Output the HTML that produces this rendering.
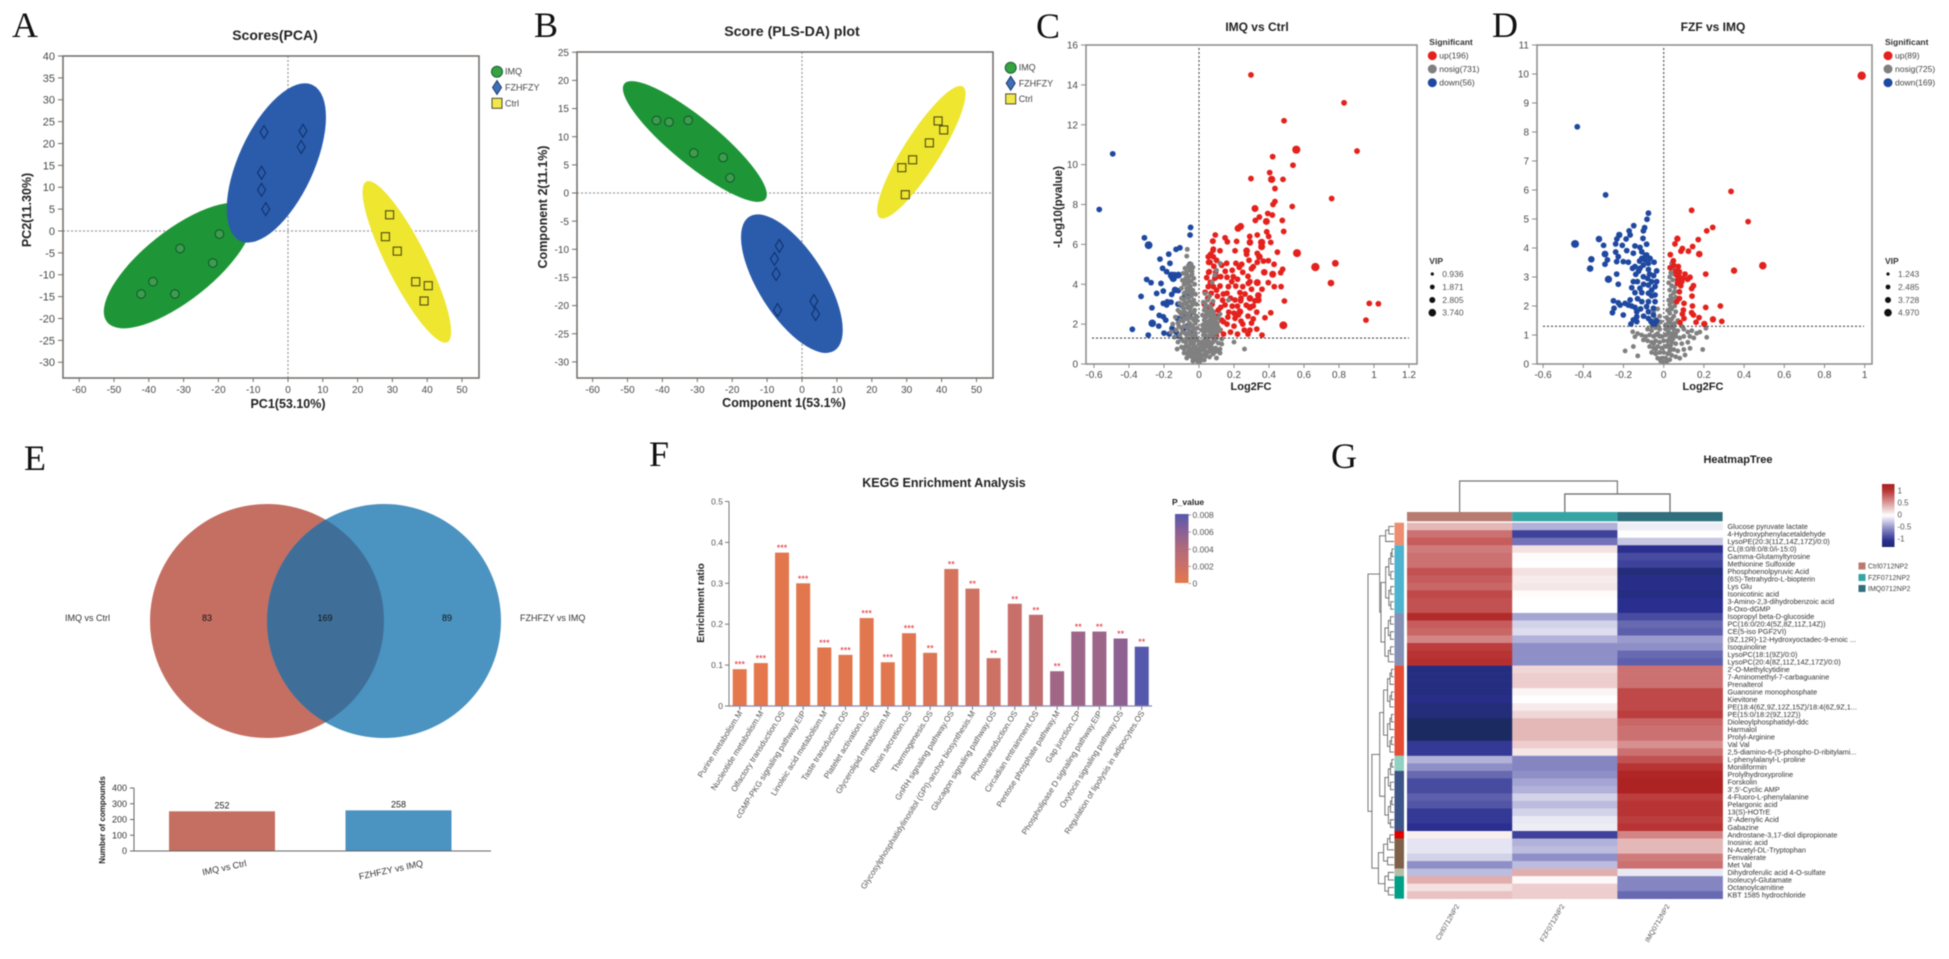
<!DOCTYPE html>
<html lang="en">
<head>
<meta charset="utf-8">
<title>Metabolomics multi-panel figure</title>
<style>
html,body{margin:0;padding:0;background:#fff;width:1949px;height:959px;overflow:hidden}
svg{display:block;font-family:"Liberation Sans",Arial,sans-serif;filter:blur(0.45px)}
.letter{font-family:"Liberation Serif",serif;font-size:36px;fill:#111}
.title{font-weight:bold;fill:#222;text-anchor:middle}
.axis-title{font-weight:bold;fill:#222;text-anchor:middle}
</style>
</head>
<body>
<svg id="figure" width="1949" height="959" viewBox="0 0 1949 959" xmlns="http://www.w3.org/2000/svg">
<defs>
<linearGradient id="p-gradient" x1="0" y1="1" x2="0" y2="0">
<stop offset="0" stop-color="#e5784a"/><stop offset="0.25" stop-color="#cb7068"/><stop offset="0.5" stop-color="#b06a7a"/><stop offset="0.75" stop-color="#8a6095"/><stop offset="1" stop-color="#5558ad"/>
</linearGradient>
<linearGradient id="heat-gradient" x1="0" y1="1" x2="0" y2="0">
<stop offset="0" stop-color="#1c2a6a"/><stop offset="0.1" stop-color="#2a2f8f"/><stop offset="0.3" stop-color="#8f8fc8"/><stop offset="0.5" stop-color="#ffffff"/><stop offset="0.7" stop-color="#da9a9a"/><stop offset="0.9" stop-color="#b83333"/><stop offset="1" stop-color="#aa2020"/>
</linearGradient>
<clipPath id="venn-clip"><circle cx="267" cy="621" r="117"/></clipPath>
</defs>
<rect width="1949" height="959" fill="#fff"/>

<text class="letter" x="12" y="37">A</text>
<text class="letter" x="534" y="37">B</text>
<text class="letter" x="1036" y="38">C</text>
<text class="letter" x="1492" y="37">D</text>
<text class="letter" x="24" y="470">E</text>
<text class="letter" x="649" y="466">F</text>
<text class="letter" x="1331" y="468">G</text>

<text class="title" x="275" y="40" font-size="14">Scores(PCA)</text>
<text class="axis-title" transform="translate(31,210) rotate(-90)" font-size="12.5">PC2(11.30%)</text>
<text class="axis-title" x="288" y="408" font-size="12.5">PC1(53.10%)</text>

<text class="title" x="792" y="36" font-size="14.2">Score (PLS-DA) plot</text>
<text class="axis-title" transform="translate(547,207) rotate(-90)" font-size="12.5">Component 2(11.1%)</text>
<text class="axis-title" x="784" y="407" font-size="12.5">Component 1(53.1%)</text>

<text class="title" x="1257" y="31" font-size="12">IMQ vs Ctrl</text>
<text class="axis-title" transform="translate(1062,207) rotate(-90)" font-size="11.5">-Log10(pvalue)</text>
<text class="axis-title" x="1251" y="390" font-size="11">Log2FC</text>

<text class="title" x="1713" y="31" font-size="12">FZF vs IMQ</text>
<text class="axis-title" x="1703" y="390" font-size="11">Log2FC</text>

<g id="venn">
<circle cx="267" cy="621" r="117" fill="#c56f62"/>
<circle cx="384" cy="621" r="117" fill="#4b93c0"/>
<circle cx="384" cy="621" r="117" fill="#3f6f99" clip-path="url(#venn-clip)"/>
<text x="65" y="621" font-size="9" fill="#333">IMQ vs Ctrl</text>
<text x="520" y="621" font-size="9" fill="#333">FZHFZY vs IMQ</text>
<text x="207" y="621" font-size="9" fill="#111" text-anchor="middle">83</text>
<text x="325" y="621" font-size="9" fill="#111" text-anchor="middle">169</text>
<text x="447" y="621" font-size="9" fill="#111" text-anchor="middle">89</text>
</g>
<text class="axis-title" transform="translate(105,820) rotate(-90)" font-size="8">Number of compounds</text>

<text class="title" x="944" y="487" font-size="12.5">KEGG Enrichment Analysis</text>
<text class="axis-title" transform="translate(704,603) rotate(-90)" font-size="10">Enrichment ratio</text>
<text x="1172" y="505" font-size="8.5" font-weight="bold" fill="#222">P_value</text>
<rect x="1175" y="514" width="13.5" height="69" fill="url(#p-gradient)"/>

<text class="title" x="1738" y="463" font-size="11">HeatmapTree</text>
<rect x="1882" y="484" width="12.5" height="63" fill="url(#heat-gradient)"/>
<g id="charts"></g>
</svg>

<script>
/* ---------- PCA data ---------- */
const pcaXTicks = [-60,-50,-40,-30,-20,-10,0,10,20,30,40,50];
const pcaYTicks = [40,35,30,25,20,15,10,5,0,-5,-10,-15,-20,-25,-30];
const pcaImqPoints = [[-42.2,-14.4],[-38.8,-11.6],[-32.5,-14.4],[-31,-4],[-21.6,-7.3],[-19.7,-0.7]];
const pcaFzPoints = [[-6.9,22.6],[4.3,22.9],[3.8,19.2],[-7.6,13.3],[-7.6,9.4],[-6.4,5]];
const pcaCtrlPoints = [[29.2,3.7],[28,-1.3],[31.4,-4.6],[36.7,-11.6],[40.3,-12.5],[39.1,-16]];
const pcaImqEllipse = [-52,-20.8,-11,5];
const pcaFzEllipse = [-13.7,-2.3,7,33.4];
const pcaCtrlEllipse = [22.5,11.3,45.8,-25.4];

/* ---------- PLS-DA data ---------- */
const plsXTicks = [-60,-50,-40,-30,-20,-10,0,10,20,30,40,50];
const plsYTicks = [25,20,15,10,5,0,-5,-10,-15,-20,-25,-30];
const plsImqPoints = [[-41.7,12.9],[-38.1,12.6],[-32.6,12.9],[-31,7.1],[-22.6,6.3],[-20.6,2.7]];
const plsFzPoints = [[-6.5,-9.4],[-7.9,-11.7],[-7.4,-14.4],[-7,-20.8],[3.4,-19.2],[3.9,-21.5]];
const plsCtrlPoints = [[39,12.8],[40.6,11.2],[36.5,8.9],[31.7,5.9],[28.6,4.5],[29.6,-0.3]];
const plsImqEllipse = [-50.9,19.4,-10.5,-1.1];
const plsFzEllipse = [-15.1,-4.2,9.3,-28];
const plsCtrlEllipse = [46.1,18.9,22.3,-4.4];

/* ---------- Volcano C data: [log2fc, -log10p, optional VIP] ---------- */
const volcanoCXTicks = [-0.6,-0.4,-0.2,0,0.2,0.4,0.6,0.8,1,1.2];
const volcanoCYTicks = [16,14,12,10,8,6,4,2,0];
const volcanoCUp = [[.297,14.5],[.829,13.1],[.486,12.2],[.556,10.75,3.6],[.903,10.68],[.421,10.4],[.537,9.97],[.404,9.6],[.297,9.3],[.415,9.26,3],[.48,9.26],[.434,8.8],[.758,8.3],[.434,8.15],[.423,8],[.533,7.9],[.32,7.8,2.8],[.345,7.37],[.393,7.55],[.419,7.47],[.322,7.2],[.385,7.15,2.8],[.476,7.2],[.484,6.65],[.238,6.9,2.8],[.223,6.8,2.8],[.093,6.47],[.387,6.63],[.398,6.4],[.29,6.4],[.333,6.47],[.078,6.16],[.149,6.33],[.162,6.13],[.215,6.15],[.291,6.1,2.6],[.358,6.1,3],[.41,6.1],[.082,5.76],[.12,5.68],[.206,5.68],[.272,5.68,2.6],[.358,5.88,2.8],[.448,5.61],[.56,5.56,3.5],[.053,5.38],[.082,5.38],[.272,5.5],[.333,5.55],[.345,5.38,2.6],[.063,5.1],[.286,5.2],[.158,5.05],[.211,5.05],[.244,5],[.333,5.1],[.368,5.16],[.396,5.18],[.429,5],[.665,4.86,3.7],[.779,5.05,2.7],[.31,4.88],[.3,4.78],[.478,4.75],[.467,4.58],[.373,4.6,2.6],[.421,4.5,2.8],[.059,4.63],[.101,4.38],[.196,4.38],[.124,4.38],[.044,4.33],[.187,4.13],[.282,4.04],[.291,4.13],[.333,4.08,2.8],[.396,4.08],[.754,4.06,2.6],[.053,3.88],[.082,3.88],[.12,3.91],[.168,3.88],[.21,3.91],[.25,3.88],[.43,3.88],[.469,3.88],[.139,3.51],[.234,3.58],[.263,3.51],[.339,3.44,2.6],[.291,3.29,2.6],[.339,3.21,2.6],[.206,3.21],[.238,3.17],[.32,3.17],[.488,3.16],[.973,3.04],[1.025,3.02],[.149,2.96],[.124,2.84],[.291,2.84,2.6],[.31,2.91],[.234,2.62,2.6],[.225,2.46],[.41,2.57],[.377,2.32],[.31,2.26],[.206,2.29],[.139,2.12],[.954,2.2],[.482,1.94,3.4],[.259,1.7],[.291,1.7],[.08,2.6],[.1,2.4],[.13,2.2],[.16,2],[.06,2.1],[.09,1.9],[.12,1.7],[.18,1.6],[.22,1.5],[.05,1.7],[.07,1.5],[.1,1.4],[.14,1.5],[.2,1.9],[.25,2],[.28,1.5],[.33,1.75],[.36,1.45],[.08,6.16],[.08,5.7],[.066,5.5],[.055,5.1],[.085,4.9],[.055,4.6],[.09,4.3],[.065,4.1],[.095,4.6],[.1,5.2],[.035,3.6],[.05,3.3],[.075,3],[.105,3.4],[.135,3.2],[.03,3],[.06,2.8],[.17,2.6],[.19,2.9],[.11,2.7],[.04,2.4],[.16,3.55],[.18,3.3],[.1,3.7],[.07,3.55],[.28,4.4],[.25,4.6],[.23,4.85],[.19,4.7],[.15,4.65],[.13,4.95],[.16,4.35],[.22,4.25],[.24,3.3],[.3,3.75],[.36,3.75],[.27,2.95],[.22,2.9],[.2,2.55],[.165,2.35],[.28,2.4],[.24,2.15],[.33,2.6],[.3,2.05]];
const volcanoCDown = [[-.493,10.54],[-.57,7.75],[-.048,6.85],[-.051,6.47],[-.312,6.33],[-.288,5.96,3.4],[-.131,5.75],[-.109,5.83],[-.173,5.51],[-.223,5.26],[-.166,5.05],[-.208,4.8],[-.185,4.63],[-.051,5],[-.156,4.44,3.3],[-.147,4.29,3],[-.118,4.46,2.8],[-.299,4.24],[-.274,4.08],[-.217,4.04],[-.331,3.39],[-.242,3.54],[-.204,3.66],[-.137,3.71,2.6],[-.118,3.68],[-.156,3.49],[-.061,3.46],[-.086,3.34],[-.204,3.04],[-.181,3.12],[-.185,2.96],[-.269,2.82],[-.061,2.84],[-.227,2.44],[-.204,2.37],[-.055,2.44],[-.267,2.04,3.2],[-.23,1.9],[-.105,2.24],[-.154,1.79],[-.381,1.74],[-.086,1.79],[-.12,3],[-.08,2.5],[-.13,1.6],[-.17,1.5],[-.07,1.9],[-.05,1.6],[-.14,4.48],[-.16,3.1],[-.1,2.95],[-.125,2.3],[-.19,2.2],[-.2,1.55],[-.115,1.4],[-.29,1.45]];
const volcanoCNosig = [[-.067,5.75],[-.07,5.41],[-.045,5],[-.06,4.95],[-.08,4.8],[-.035,4.85],[-.05,4.7],[-.07,4.6],[-.09,4.55],[-.04,4.5],[-.055,4.4],[-.075,4.3],[-.03,4.3],[-.095,4.2],[-.045,4.15],[-.065,4.05],[-.085,4],[-.025,4],[-.05,3.9],[-.07,3.8],[-.1,3.8],[-.035,3.7],[-.06,3.6],[-.085,3.55],[-.02,3.5],[-.045,3.4],[-.07,3.35],[-.1,3.3],[-.03,3.2],[-.055,3.15],[-.08,3.1],[-.11,3.05],[-.015,3],[-.04,2.95],[-.065,2.85],[-.09,2.8],[-.12,2.7],[-.025,2.7],[-.05,2.6],[-.075,2.55],[-.1,2.45],[-.135,2.35],[-.015,2.4],[-.04,2.3],[-.065,2.25],[-.09,2.15],[-.12,2.05],[-.15,2],[-.02,2.05],[-.045,1.95],[-.07,1.85],[-.1,1.8],[-.13,1.7],[-.16,1.6],[-.01,1.8],[-.03,1.7],[-.055,1.6],[-.08,1.55],[-.11,1.45],[-.14,1.35],[-.02,1.4],[-.04,1.3],[-.065,1.25],[-.09,1.15],[-.12,1.1],[-.01,1.2],[-.03,1.05],[-.05,1],[-.075,.9],[-.1,.85],[-.125,.75],[-.02,.85],[-.04,.75],[-.06,.65],[-.085,.55],[-.015,.6],[-.03,.5],[-.05,.4],[-.07,.3],[-.01,.35],[-.02,.2],[-.035,.15],[-.005,.1],[.005,.1],[.015,.25],[.03,.2],[.02,.45],[.04,.4],[.06,.35],[.015,.7],[.035,.65],[.055,.6],[.08,.5],[.1,.3],[.12,.55],[.02,.95],[.045,.9],[.07,.85],[.095,.8],[.12,.75],[.03,1.2],[.055,1.15],[.08,1.1],[.11,1.05],[.13,1],[.2,1.1],[.26,.75],[.025,1.45],[.05,1.4],[.075,1.35],[.1,1.3],[.13,1.25],[.015,1.7],[.04,1.65],[.065,1.6],[.09,1.55],[.02,1.95],[.045,1.9],[.07,1.85],[.095,1.8],[.12,1.7],[.03,2.2],[.055,2.15],[.08,2.1],[.105,2.05],[.02,2.45],[.045,2.4],[.07,2.35],[.095,2.3],[.03,2.7],[.055,2.65],[.08,2.6],[.12,2.5],[.04,2.95],[.065,2.9],[.025,3.1],[.05,3.2],[.08,3.15],[.168,3.2],[.034,3.54],[.06,3.4],[.09,4.46],[.075,4.1],[.12,5.05],[.1,4.7],
[-.06,4.2],[-.07,4.45],[-.04,4.65],[-.055,4.8],[-.08,4.15],[-.05,3.7],[-.075,3.6],[-.04,3.55],[-.06,3.3],[-.09,3.25],[-.035,3.05],[-.07,3],[-.095,2.95],[-.05,2.8],[-.03,2.55],[-.085,2.65],[-.06,2.45],[-.11,2.6],[-.03,2.2],[-.055,2.05],[-.08,2.3],[-.105,2.2],[-.015,2.2],[-.035,1.85],[-.06,1.75],[-.085,1.9],[-.115,1.9],[-.02,1.55],[-.045,1.45],[-.07,1.45],[-.095,1.6],[-.05,1.2],[-.075,1.1],[-.1,1.25],[-.025,1.2],[-.04,1.1],[-.06,.85],[-.085,.75],[-.03,.9],[-.045,.6],[-.065,.5],[-.02,.7],[-.01,.5],[-.035,.3],[-.01,.75],[0,1],[0,.6],[0,.3],[.01,1.1],[.01,.85],[.01,.45],[.03,.8],[.04,.55],[.06,.8],[.05,1.05],[.075,.7],[.09,.6],[.105,.65],[.03,1.05],[.07,1],[.09,1.2],[.04,1.3],[.065,1.45],[.085,1.25],[.03,1.55],[.055,1.75],[.08,1.7],[.105,1.6],[.03,1.85],[.06,2],[.085,1.95],[.11,1.85],[.035,2.05],[.065,2.2],[.09,2.2],[.035,2.35],[.06,2.5],[.085,2.45],[.11,2.3],[.045,2.6],[.07,2.75],[.035,2.85]];

/* ---------- Volcano D data ---------- */
const volcanoDXTicks = [-0.6,-0.4,-0.2,0,0.2,0.4,0.6,0.8,1];
const volcanoDYTicks = [11,10,9,8,7,6,5,4,3,2,1,0];
const volcanoDUp = [[.985,9.94,4.97],[.335,5.95],[.139,5.3],[.42,4.91],[.244,4.71],[.214,4.59],[.068,4.32,3.2],[.172,4.29],[.056,4.14],[.144,4.05],[.093,3.98],[.086,3.89],[.123,3.89],[.033,3.77],[.177,3.79,3.4],[.048,3.56],[.493,3.39,4.2],[.35,3.22,3.2],[.073,3.36],[.032,3.32],[.078,3.18],[.209,3.1],[.106,3.1],[.065,3.06],[.131,2.99],[.119,2.92],[.081,2.95],[.09,2.84],[.068,2.78],[.148,2.7],[.139,2.6],[.078,2.49],[.141,2.34],[.078,2.26],[.101,2.09],[.282,2],[.209,1.95],[.143,2],[.098,1.86],[.139,1.77],[.148,1.69],[.101,1.57],[.176,1.6],[.245,1.54,3.2],[.289,1.47],[.161,1.44],[.202,1.38,3.2],[.081,1.43],[.093,1.72],[.065,2.15],[.075,3.05],[.095,2.95],[.06,3.2],[.05,3.4],[.085,2.7],[.07,2.9]];
const volcanoDDown = [[-.43,8.18],[-.289,5.83],[-.076,5.2],[-.083,4.99],[-.149,4.77],[-.095,4.7],[-.101,4.59],[-.172,4.59],[-.221,4.45,3.2],[-.167,4.45],[-.233,4.31],[-.322,4.31,3.4],[-.187,4.31],[-.103,4.33],[-.441,4.14,4.6],[-.299,4.09],[-.239,4.14],[-.206,4.09],[-.143,4.07],[-.085,4.13],[-.118,4.02],[-.239,3.86],[-.184,3.91],[-.292,3.79,3.6],[-.151,3.82],[-.109,3.87],[-.085,3.76],[-.36,3.61,3.4],[-.28,3.59],[-.226,3.7],[-.234,3.53],[-.292,3.44],[-.201,3.53],[-.176,3.51],[-.109,3.64],[-.093,3.59],[-.068,3.64],[-.366,3.29,3.4],[-.143,3.36],[-.101,3.41],[-.076,3.47],[-.048,3.51],[-.118,3.3],[-.076,3.26],[-.035,3.21],[-.234,3.1],[-.139,3.09],[-.101,3.01],[-.275,2.92,4],[-.151,2.84],[-.131,2.84],[-.06,2.84],[-.035,2.84],[-.226,2.75],[-.076,2.72],[-.043,2.67],[-.118,2.61],[-.159,2.63],[-.06,2.55],[-.143,2.46],[-.109,2.46],[-.076,2.44],[-.043,2.38],[-.25,2.18],[-.226,2.11],[-.167,2.21],[-.192,2.09],[-.109,2.15],[-.076,2.15],[-.043,2.15],[-.176,2.03],[-.217,2.03],[-.143,1.95],[-.085,1.98],[-.051,1.92],[-.247,1.92],[-.255,1.77],[-.201,1.69],[-.134,1.8],[-.076,1.8],[-.134,1.63],[-.051,1.69],[-.151,1.52],[-.076,1.57],[-.134,1.46],[-.163,1.38],[-.063,1.46],[-.043,1.4],[-.035,1.49],[-.051,1.38],[-.12,3.55],[-.09,3.75],[-.07,3.1],[-.1,2.75],[-.13,2.25],[-.1,1.65],[-.06,2.35],[-.08,2.95],[-.125,3.2],[-.155,3.3],[-.05,3.05],[-.16,2.0],[-.115,1.9]];
const volcanoDNosig = [[.04,3.47],[.045,3.3],[.035,3.15],[.05,3.1],[.03,3],[.045,2.9],[.025,2.8],[.04,2.7],[.055,2.65],[.03,2.55],[.05,2.45],[.035,2.35],[.06,2.3],[.025,2.2],[.045,2.15],[.03,2.05],[.055,2],[.04,1.9],[.02,1.85],[.06,1.8],[.03,1.75],[.05,1.65],[.015,1.6],[.04,1.55],[.07,1.5],[.025,1.45],[.055,1.4],[.01,1.35],[.09,1.3],[.21,1.23],[-.03,1.9],[-.05,1.8],[-.02,1.65],[-.04,1.55],[-.06,1.5],[-.015,1.45],[-.03,1.35],[-.192,.45],[-.151,.6],[-.129,.28],[-.154,1.11],[-.143,.94],[-.101,.83],[.164,1.06],[.214,.92],[.194,.5],[.131,.54],[.106,.31],[-.13,1.05],[-.11,1],[-.08,1.2],[-.06,1.15],[-.04,1.25],[-.02,1.2],[.01,1.2],[.03,1.25],[.05,1.2],[.07,1.15],[.1,1.2],[.12,1.1],[.14,1.15],[.18,1.1],[-.09,.95],[-.07,1],[-.05,.95],[-.03,1.05],[-.01,.95],[.02,1.05],[.04,1],[.06,.95],[.08,.9],[.1,.95],[.13,.95],[.15,.9],[-.08,.8],[-.06,.75],[-.04,.8],[-.02,.75],[0,.8],[.02,.8],[.04,.75],[.06,.7],[.09,.7],[.12,.75],[-.07,.6],[-.05,.55],[-.03,.6],[-.01,.55],[.01,.6],[.03,.55],[.05,.5],[.07,.45],[.1,.5],[-.06,.4],[-.04,.35],[-.02,.4],[0,.4],[.02,.35],[.04,.3],[.06,.25],[.08,.2],[-.03,.2],[-.01,.2],[.01,.2],[.03,.15],[0,.05],[-.015,.1],[.015,.08],[.03,.9],[.035,.65],[.045,.85],[.02,.65],[.03,.45],[.015,1.3],[.035,1.4],[.05,1.3],[-.04,1],[-.05,.7],[-.04,.5],[-.02,.95],[-.06,1.3],[-.045,1.4],[.025,1.1],[.06,1.05],[.045,1.05],[.01,1],[.055,2.5],[.04,2.25],[.035,1.95],[.02,1.55]];

/* ---------- Compounds bars (E) ---------- */
const compoundCategories = ['IMQ vs Ctrl','FZHFZY vs IMQ'];
const compoundValues = [252,258];
const compoundTicks = [400,300,200,100,0];

/* ---------- KEGG bars (F) ---------- */
const keggCategories = ['Purine metabolism.M','Nucleotide metabolism.M','Olfactory transduction.OS','cGMP-PKG signaling pathway.EIP','Linoleic acid metabolism.M','Taste transduction.OS','Platelet activation.OS','Glycerolipid metabolism.M','Renin secretion.OS','Thermogenesis.OS','GnRH signaling pathway.OS','Glycosylphosphatidylinositol (GPI)-anchor biosynthesis.M','Glucagon signaling pathway.OS','Phototransduction.OS','Circadian entrainment.OS','Pentose phosphate pathway.M','Gap junction.CP','Phospholipase D signaling pathway.EIP','Oxytocin signaling pathway.OS','Regulation of lipolysis in adipocytes.OS'];
const keggRatios = [0.09,0.105,0.375,0.3,0.143,0.125,0.215,0.107,0.178,0.13,0.335,0.287,0.117,0.25,0.223,0.085,0.182,0.182,0.165,0.145];
const keggPValues = [0.0001,0.0001,0.0002,0.0002,0.0002,0.0003,0.0003,0.0003,0.0004,0.0007,0.0012,0.0016,0.0018,0.0022,0.0028,0.0048,0.005,0.005,0.0058,0.008];
const keggStars = ['***','***','***','***','***','***','***','***','***','**','**','**','**','**','**','**','**','**','**','**'];
const keggTicks = [0.5,0.4,0.3,0.2,0.1,0];
const keggLegendTicks = [0.008,0.006,0.004,0.002,0];

/* ---------- Heatmap (G) ---------- */
const heatRows = ['Glucose pyruvate lactate','4-Hydroxyphenylacetaldehyde','LysoPE(20:3(11Z,14Z,17Z)/0:0)','CL(8:0/8:0/8:0/i-15:0)','Gamma-Glutamyltyrosine','Methionine Sulfoxide','Phosphoenolpyruvic Acid','(6S)-Tetrahydro-L-biopterin','Lys Glu','Isonicotinic acid','3-Amino-2,3-dihydrobenzoic acid','8-Oxo-dGMP','Isopropyl beta-D-glucoside','PC(16:0/20:4(5Z,8Z,11Z,14Z))','CE(5-iso PGF2VI)','(9Z,12R)-12-Hydroxyoctadec-9-enoic ...','Isoquinoline','LysoPC(18:1(9Z)/0:0)','LysoPC(20:4(8Z,11Z,14Z,17Z)/0:0)',"2'-O-Methylcytidine",'7-Aminomethyl-7-carbaguanine','Prenalterol','Guanosine monophosphate','Kievitone','PE(18:4(6Z,9Z,12Z,15Z)/18:4(6Z,9Z,1...','PE(15:0/18:2(9Z,12Z))','Dioleoylphosphatidyl-ddc','Harmalol','Prolyl-Arginine','Val Val','2,5-diamino-6-(5-phospho-D-ribitylami...','L-phenylalanyl-L-proline','Moniliformin','Prolylhydroxyproline','Forskolin',"3',5'-Cyclic AMP",'4-Fluoro-L-phenylalanine','Pelargonic acid','13(S)-HOTrE',"3'-Adenylic Acid",'Gabazine','Androstane-3,17-diol dipropionate','Inosinic acid','N-Acetyl-DL-Tryptophan','Fenvalerate','Met Val','Dihydroferulic acid 4-O-sulfate','Isoleucyl-Glutamate','Octanoylcarnitine','KBT 1585 hydrochloride'];
const heatCtrl = [.35,.7,.8,.65,.7,.7,.85,.8,.75,.9,.85,.85,1.1,.8,.75,.6,.95,1,1.05,-1.1,-1.1,-1.1,-1.1,-1.05,-1.15,-1.15,-1.3,-1.3,-1.3,-.95,-.95,-.35,-.5,-.7,-.85,-.85,-.75,-.8,-.95,-.95,-1,.08,-.12,-.12,-.2,-.5,-.3,.4,.15,.3];
const heatFzf = [-.35,-.9,-.65,.15,.02,0,.15,.1,.12,.02,0,0,-.4,-.2,-.15,-.35,-.5,-.5,-.5,.2,.25,.25,.05,0,.1,.2,.35,.35,.35,.25,.12,-.55,-.55,-.5,-.4,-.35,-.2,-.3,-.2,-.1,-.08,-.9,-.35,-.3,-.5,-.3,.4,.03,.25,.25];
const heatImq = [-.08,0,-.25,-1,-.85,-.9,-1.15,-1.05,-1.05,-1.1,-1,-1,-.85,-.7,-.75,-.45,-.5,-.7,-.75,.7,.7,.7,.9,.9,.9,.95,.75,.7,.7,.55,.7,.85,1,1.15,1.2,1.2,.95,1,1,.95,1,.6,.35,.35,.65,.7,-.1,-.55,-.55,-.7];
const heatColumns = ['Ctrl0712NP2','FZF0712NP2','IMQ0712NP2'];
const heatColumnColors = ['#b87b70','#35a5a5','#2f6f7e'];
const heatGroupSizes = [3,9,7,12,2,8,1,4,1,3];
const heatGroupColors = ['#ee8d70','#4db3cf','#8491b4','#e64b35','#91d1c2','#3c5488','#dc0000','#7e6148','#b8bda8','#00a087'];
const heatLegendTicks = [1,0.5,0,-0.5,-1];
/* dendrogram: [height, childA, childB]; a [first,last] pair of row indexes is a leaf block */
const rowTree = [1,
  [.55,[.32,[0,2]],[.5,[.32,[3,11]],[.35,[12,18]]]],
  [.85,[.55,[.4,[19,30]],[.35,[31,40]]],[.6,[.4,[41,45]],[.35,[46,49]]]]];

/* ---------- helpers ---------- */
const NS = 'http://www.w3.org/2000/svg';
const root = document.getElementById('charts');
function mk(parent, tag, name, attrs) {
  const el = document.createElementNS(NS, tag);
  
  
  for (const k in attrs) el.setAttribute(k, attrs[k]);
  parent.appendChild(el);
  return el;
}
function txt(parent, name, x, y, str, size, fill, anchor, rot, weight) {
  const a = {'font-size': size, fill: fill || '#444', 'text-anchor': anchor || 'start'};
  if (weight) a['font-weight'] = weight;
  if (rot) a.transform = 'translate(' + x + ',' + y + ') rotate(' + rot + ')';
  else { a.x = x; a.y = y; }
  const t = mk(parent, 'text', name, a);
  t.textContent = str;
  return t;
}
function linear(d0, d1, r0, r1) { return v => r0 + (v - d0) * (r1 - r0) / (d1 - d0); }
function line(p, name, x1, y1, x2, y2, stroke, w, dash) {
  const a = {x1, y1, x2, y2, stroke, 'stroke-width': w};
  if (dash) a['stroke-dasharray'] = dash;
  return mk(p, 'line', name, a);
}
function frame(p, prefix, box, sx, sy, xTicks, yTicks, o) {
  mk(p, 'rect', prefix + '-plot-frame', {x: box.l, y: box.t, width: box.r - box.l, height: box.b - box.t, fill: 'none', stroke: o.frame, 'stroke-width': o.fw});
  xTicks.forEach(v => {
    line(p, prefix + '-x-tick', sx(v), box.b, sx(v), box.b + 4, o.frame, 1);
    txt(p, prefix + '-x-tick-label', sx(v), box.b + o.xly, String(v), o.xs, '#4a4a4a', 'middle');
  });
  yTicks.forEach(v => {
    line(p, prefix + '-y-tick', box.l - 5, sy(v), box.l, sy(v), o.frame, 1);
    txt(p, prefix + '-y-tick-label', box.l - 8, sy(v) + o.ys * .36, String(v), o.ys, '#4a4a4a', 'end');
  });
}
function ellipse(p, name, seg, minor, sx, sy, fill) {
  const x1 = sx(seg[0]), y1 = sy(seg[1]), x2 = sx(seg[2]), y2 = sy(seg[3]);
  const cx = (x1 + x2) / 2, cy = (y1 + y2) / 2, a = Math.hypot(x2 - x1, y2 - y1) / 2;
  const ang = Math.atan2(y2 - y1, x2 - x1) * 180 / Math.PI;
  mk(p, 'ellipse', name, {cx, cy, rx: a, ry: minor, fill, transform: 'rotate(' + ang + ' ' + cx + ' ' + cy + ')'});
}
function circles(p, name, pts, sx, sy) {
  pts.forEach(d => mk(p, 'circle', name, {cx: sx(d[0]), cy: sy(d[1]), r: 4.3, fill: '#3f9c4f', stroke: '#0f5c2a', 'stroke-width': 1.1}));
}
function diamonds(p, name, pts, sx, sy) {
  pts.forEach(d => {
    const x = sx(d[0]), y = sy(d[1]);
    mk(p, 'polygon', name, {points: (x - 4) + ',' + y + ' ' + x + ',' + (y - 6.5) + ' ' + (x + 4) + ',' + y + ' ' + x + ',' + (y + 6.5), fill: 'none', stroke: '#10316b', 'stroke-width': 1.1});
  });
}
function squares(p, name, pts, sx, sy) {
  pts.forEach(d => mk(p, 'rect', name, {x: sx(d[0]) - 4, y: sy(d[1]) - 4, width: 8, height: 8, fill: 'none', stroke: '#4f4a12', 'stroke-width': 1.1}));
}
function groupLegend(p, prefix, x, y0, step) {
  mk(p, 'circle', prefix + '-legend-imq-marker', {cx: x, cy: y0, r: 5.5, fill: '#36a33f', stroke: '#1c5d40', 'stroke-width': 1});
  const dy = y0 + step;
  mk(p, 'polygon', prefix + '-legend-fzhfzy-marker', {points: (x - 4.5) + ',' + dy + ' ' + x + ',' + (dy - 7) + ' ' + (x + 4.5) + ',' + dy + ' ' + x + ',' + (dy + 7), fill: '#3f6fb8', stroke: '#1e3a70', 'stroke-width': 1});
  mk(p, 'rect', prefix + '-legend-ctrl-marker', {x: x - 5, y: y0 + 2 * step - 5, width: 10, height: 10, fill: '#f2e84a', stroke: '#4a4a30', 'stroke-width': 1});
  txt(p, prefix + '-legend-imq-label', x + 8, y0 + 3, 'IMQ', 9, '#444');
  txt(p, prefix + '-legend-fzhfzy-label', x + 8, y0 + step + 3, 'FZHFZY', 9, '#444');
  txt(p, prefix + '-legend-ctrl-label', x + 8, y0 + 2 * step + 3, 'Ctrl', 9, '#444');
}
function volcanoDots(p, name, pts, sx, sy, fill, defVip, maxVip) {
  pts.forEach(d => {
    const v = d.length > 2 ? d[2] : defVip;
    mk(p, 'circle', name, {cx: sx(d[0]), cy: sy(d[1]), r: 1.4 + 2.8 * v / maxVip, fill});
  });
}
function volcanoLegend(p, prefix, x, counts, vipLabels) {
  txt(p, prefix + '-significant-title', x - 3, 45, 'Significant', 8.5, '#333', 'start', 0, 'bold');
  const names = ['up', 'nosig', 'down'], cols = ['#e4211c', '#808080', '#1f48a0'], ys = [55.7, 69, 82.7];
  names.forEach((n, i) => {
    mk(p, 'circle', prefix + '-legend-' + n + '-marker', {cx: x, cy: ys[i], r: 4.5, fill: cols[i]});
    txt(p, prefix + '-legend-' + n + '-label', x + 7, ys[i] + 3, n + '(' + counts[i] + ')', 8.5, '#444');
  });
  txt(p, prefix + '-vip-title', x - 3, 264, 'VIP', 8.5, '#333', 'start', 0, 'bold');
  const vy = [274, 287, 300, 312.7], vr = [1.6, 2.4, 3, 3.8];
  vipLabels.forEach((l, i) => {
    mk(p, 'circle', prefix + '-vip-marker', {cx: x, cy: vy[i], r: vr[i], fill: '#111'});
    txt(p, prefix + '-vip-label', x + 10, vy[i] + 3, l, 8.5, '#555');
  });
}

/* ---------- A: PCA ---------- */
(function () {
  const g = mk(root, 'g', 'pca-chart', {});
  const box = {l: 63, r: 479, t: 56, b: 378};
  const sx = linear(0, 10, 288, 322.8), sy = linear(0, 10, 231, 187.25);
  line(g, 'pca-zero-vline', sx(0), box.t, sx(0), box.b, '#9a9a9a', 1.2, '2 2');
  line(g, 'pca-zero-hline', box.l, sy(0), box.r, sy(0), '#9a9a9a', 1.2, '2 2');
  ellipse(g, 'pca-imq-ellipse', pcaImqEllipse, 35, sx, sy, '#1e9637');
  ellipse(g, 'pca-fzhfzy-ellipse', pcaFzEllipse, 37.6, sx, sy, '#2b5cac');
  ellipse(g, 'pca-ctrl-ellipse', pcaCtrlEllipse, 20, sx, sy, '#eee62f');
  frame(g, 'pca', box, sx, sy, pcaXTicks, pcaYTicks, {frame: '#706b66', fw: 1.5, xs: 10, ys: 11, xly: 15});
  circles(g, 'pca-imq-point', pcaImqPoints, sx, sy);
  diamonds(g, 'pca-fzhfzy-point', pcaFzPoints, sx, sy);
  squares(g, 'pca-ctrl-point', pcaCtrlPoints, sx, sy);
  groupLegend(g, 'pca', 497, 71.7, 15.8);
})();

/* ---------- B: PLS-DA ---------- */
(function () {
  const g = mk(root, 'g', 'plsda-chart', {});
  const box = {l: 577, r: 993, t: 52, b: 378};
  const sx = linear(0, 10, 802, 836.9), sy = linear(0, 5, 193, 164.85);
  line(g, 'plsda-zero-vline', sx(0), box.t, sx(0), box.b, '#9a9a9a', 1.2, '2 2');
  line(g, 'plsda-zero-hline', box.l, sy(0), box.r, sy(0), '#9a9a9a', 1.2, '2 2');
  ellipse(g, 'plsda-imq-ellipse', plsImqEllipse, 23, sx, sy, '#1e9637');
  ellipse(g, 'plsda-fzhfzy-ellipse', plsFzEllipse, 33, sx, sy, '#2b5cac');
  ellipse(g, 'plsda-ctrl-ellipse', plsCtrlEllipse, 18, sx, sy, '#eee62f');
  frame(g, 'plsda', box, sx, sy, plsXTicks, plsYTicks, {frame: '#706b66', fw: 1.5, xs: 10, ys: 10, xly: 15});
  circles(g, 'plsda-imq-point', plsImqPoints, sx, sy);
  diamonds(g, 'plsda-fzhfzy-point', plsFzPoints, sx, sy);
  squares(g, 'plsda-ctrl-point', plsCtrlPoints, sx, sy);
  groupLegend(g, 'plsda', 1010.7, 67.7, 15.6);
})();

/* ---------- C: Volcano ---------- */
(function () {
  const g = mk(root, 'g', 'volcano-c-chart', {});
  const box = {l: 1086, r: 1417, t: 45, b: 364};
  const sx = linear(0, 1, 1199, 1374), sy = linear(0, 16, 364, 45);
  line(g, 'volcano-c-zero-vline', sx(0), box.t + 3, sx(0), box.b, '#444', 1.1, '2 2');
  volcanoDots(g, 'volcano-c-up-point', volcanoCUp, sx, sy, '#e4211c', 2, 3.74);
  volcanoDots(g, 'volcano-c-down-point', volcanoCDown, sx, sy, '#1f48a0', 2, 3.74);
  volcanoDots(g, 'volcano-c-nosig-point', volcanoCNosig, sx, sy, '#808080', 1.4, 3.74);
  line(g, 'volcano-c-threshold', box.l + 6, sy(1.3), box.r - 8, sy(1.3), '#444', 1.1, '2 2');
  frame(g, 'volcano-c', box, sx, sy, volcanoCXTicks, volcanoCYTicks, {frame: '#8a8a8a', fw: 1.5, xs: 10, ys: 10, xly: 14});
  volcanoLegend(g, 'volcano-c', 1432.3, [196, 731, 56], ['0.936', '1.871', '2.805', '3.740']);
})();

/* ---------- D: Volcano ---------- */
(function () {
  const g = mk(root, 'g', 'volcano-d-chart', {});
  const box = {l: 1537, r: 1872, t: 45, b: 364};
  const sx = linear(0, 1, 1663.7, 1864.7), sy = linear(0, 11, 364, 45);
  line(g, 'volcano-d-zero-vline', sx(0), box.t + 3, sx(0), box.b, '#444', 1.1, '2 2');
  volcanoDots(g, 'volcano-d-nosig-point', volcanoDNosig, sx, sy, '#808080', 1.8, 4.97);
  volcanoDots(g, 'volcano-d-up-point', volcanoDUp, sx, sy, '#e4211c', 2.65, 4.97);
  volcanoDots(g, 'volcano-d-down-point', volcanoDDown, sx, sy, '#1f48a0', 2.65, 4.97);
  line(g, 'volcano-d-threshold', box.l + 6, sy(1.3), box.r - 8, sy(1.3), '#444', 1.1, '2 2');
  frame(g, 'volcano-d', box, sx, sy, volcanoDXTicks, volcanoDYTicks, {frame: '#8a8a8a', fw: 1.5, xs: 10, ys: 10, xly: 14});
  volcanoLegend(g, 'volcano-d', 1888, [89, 725, 169], ['1.243', '2.485', '3.728', '4.970']);
})();

/* ---------- E: compounds bar chart ---------- */
(function () {
  const g = mk(root, 'g', 'compounds-bar-chart', {});
  const sy = linear(0, 400, 851, 788);
  const cx = [222, 398.5], colors = ['#c56f62', '#4b93c0'];
  compoundValues.forEach((v, i) => {
    mk(g, 'rect', 'compound-bar', {x: cx[i] - 53, y: sy(v), width: 106, height: 851 - sy(v), fill: colors[i]});
    txt(g, 'compound-bar-value', cx[i], sy(v) - 3, String(v), 9, '#222', 'middle');
    txt(g, 'compound-bar-label', cx[i] + 25, 866, compoundCategories[i], 9, '#333', 'end', -12);
  });
  line(g, 'compounds-y-axis', 134, 788, 134, 851, '#666', 1);
  line(g, 'compounds-x-axis', 134, 851, 491, 851, '#666', 1);
  compoundTicks.forEach(v => {
    line(g, 'compounds-y-tick', 130, sy(v), 134, sy(v), '#666', 1);
    txt(g, 'compounds-y-tick-label', 127, sy(v) + 3, String(v), 9, '#333', 'end');
  });
})();

/* ---------- F: KEGG enrichment ---------- */
(function () {
  const g = mk(root, 'g', 'kegg-bar-chart', {});
  const sy = linear(0, 0.5, 706, 501.5);
  const sx = i => 739.7 + i * 21.16;
  const stops = [[0, [229, 120, 74]], [.002, [203, 112, 104]], [.004, [176, 106, 122]], [.006, [138, 96, 149]], [.008, [85, 88, 173]]];
  function pColor(p) {
    for (let i = 1; i < stops.length; i++) {
      if (p <= stops[i][0]) {
        const t = (p - stops[i - 1][0]) / (stops[i][0] - stops[i - 1][0]);
        const c = stops[i - 1][1].map((a, k) => Math.round(a + (stops[i][1][k] - a) * t));
        return 'rgb(' + c.join(',') + ')';
      }
    }
    return 'rgb(85,88,173)';
  }
  keggRatios.forEach((v, i) => {
    mk(g, 'rect', 'kegg-bar', {x: sx(i) - 7, y: sy(v), width: 14, height: 706 - sy(v), fill: pColor(keggPValues[i])});
    txt(g, 'kegg-significance', sx(i), sy(v) - 1.5, keggStars[i], 9, '#e0202a', 'middle');
    line(g, 'kegg-x-tick', sx(i), 706, sx(i), 710, '#777', 1);
    txt(g, 'kegg-category-label', sx(i) + 3, 713, keggCategories[i], 8.2, '#555', 'end', -58);
  });
  line(g, 'kegg-y-axis', 729, 501.5, 729, 706, '#777', 1);
  line(g, 'kegg-x-axis', 729, 706, 1152, 706, '#8a86a8', 1.2);
  keggTicks.forEach(v => {
    line(g, 'kegg-y-tick', 725, sy(v), 729, sy(v), '#777', 1);
    txt(g, 'kegg-y-tick-label', 723, sy(v) + 3, String(v), 8.5, '#555', 'end');
  });
  const ly = linear(0, 0.008, 583.5, 515);
  keggLegendTicks.forEach(v => {
    line(g, 'p-value-tick', 1188.5, ly(v), 1191, ly(v), '#888', 0.8);
    txt(g, 'p-value-tick-label', 1192.5, ly(v) + 3, String(v), 8.5, '#555');
  });
})();

/* ---------- G: Heatmap ---------- */
(function () {
  const g = mk(root, 'g', 'heatmap-chart', {});
  const x0 = 1407, colW = 105.2, y0 = 522.7, rowH = 7.52;
  const stops = [[-1.3, [28, 42, 98]], [-1, [42, 47, 143]], [-.5, [143, 143, 200]], [0, [255, 255, 255]], [.5, [218, 154, 154]], [1, [184, 51, 51]], [1.25, [170, 30, 30]]];
  function heat(v) {
    for (let i = 1; i < stops.length; i++) {
      if (v <= stops[i][0]) {
        const t = (v - stops[i - 1][0]) / (stops[i][0] - stops[i - 1][0]);
        const c = stops[i - 1][1].map((a, k) => Math.round(a + (stops[i][1][k] - a) * t));
        return 'rgb(' + c.join(',') + ')';
      }
    }
    return 'rgb(170,30,30)';
  }
  const series = [heatCtrl, heatFzf, heatImq];
  heatColumns.forEach((name, c) => {
    mk(g, 'rect', 'heatmap-column-annotation', {x: x0 + c * colW, y: 512, width: colW, height: 9.3, fill: heatColumnColors[c]});
    txt(g, 'heatmap-column-label', x0 + c * colW + colW / 2, 906, name, 7, '#555', 'end', -60);
    series[c].forEach((v, r) => {
      mk(g, 'rect', 'heatmap-cell', {x: x0 + c * colW, y: y0 + r * rowH, width: colW + .3, height: rowH + .3, fill: heat(v)});
    });
  });
  heatRows.forEach((name, r) => {
    txt(g, 'heatmap-row-label', 1727.5, y0 + r * rowH + rowH / 2 + 2.5, name, 7.3, '#333');
  });
  let start = 0;
  heatGroupSizes.forEach((n, i) => {
    mk(g, 'rect', 'heatmap-row-group', {x: 1394.5, y: y0 + start * rowH, width: 9.5, height: n * rowH, fill: heatGroupColors[i]});
    start += n;
  });
  const hx = h => 1394 - 26 * h;
  function tree(node, h) {
    if (typeof node[0] === 'number' && node.length === 2 && Number.isInteger(node[0]) && Number.isInteger(node[1])) {
      const a = node[0], b = node[1];
      if (a === b) return {x: 1394, y: y0 + a * rowH + rowH / 2};
      const m = Math.floor((a + b) / 2);
      return join(h, [h * .62, [a, m]], [h * .62, [m + 1, b]]);
    }
    if (node.length === 2) return tree(node[1], node[0]);
    return join(node[0], node[1], node[2]);
  }
  function join(h, l, r) {
    const A = tree(l, h * .62), B = tree(r, h * .62), x = hx(h);
    const pts = A.x + ',' + A.y + ' ' + x + ',' + A.y + ' ' + x + ',' + B.y + ' ' + B.x + ',' + B.y;
    mk(g, 'polyline', 'heatmap-row-dendrogram-branch', {points: pts, fill: 'none', stroke: '#666', 'stroke-width': 0.9});
    return {x, y: (A.y + B.y) / 2};
  }
  tree(rowTree, 1);
  const cc = i => x0 + i * colW + colW / 2;
  mk(g, 'polyline', 'heatmap-column-dendrogram-fzf-imq', {points: cc(1) + ',512 ' + cc(1) + ',494 ' + cc(2) + ',494 ' + cc(2) + ',512', fill: 'none', stroke: '#666', 'stroke-width': 1.2});
  const mid = (cc(1) + cc(2)) / 2;
  mk(g, 'polyline', 'heatmap-column-dendrogram-root', {points: cc(0) + ',512 ' + cc(0) + ',481 ' + mid + ',481 ' + mid + ',494', fill: 'none', stroke: '#777', 'stroke-width': 1.2});
  const ly = linear(0, 1, 514.7, 490.7);
  heatLegendTicks.forEach(v => {
    txt(g, 'heat-colorbar-tick-label', 1897.5, ly(v) + 3, String(v), 8, '#555');
  });
  const legY = [566, 577.5, 588.5];
  heatColumns.forEach((name, i) => {
    mk(g, 'rect', 'heatmap-legend-swatch', {x: 1858.5, y: legY[i] - 3.5, width: 7, height: 7, fill: heatColumnColors[i]});
    txt(g, 'heatmap-legend-label', 1868, legY[i] + 2.5, name, 7, '#444');
  });
})();
</script>
</body>
</html>
